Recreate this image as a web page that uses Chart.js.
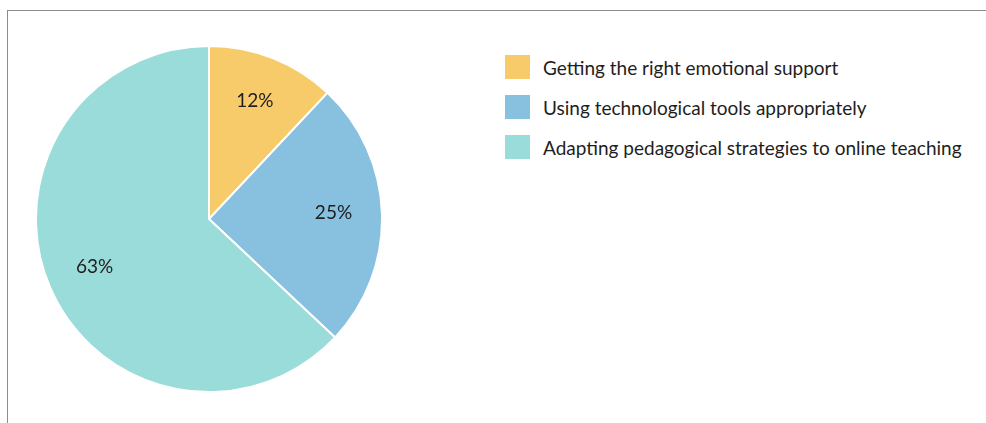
<!DOCTYPE html>
<html>
<head>
<meta charset="utf-8">
<script src="https://cdn.jsdelivr.net/npm/chart.js@4"></script>
<style>
  html, body { margin: 0; padding: 0; background: #fff; }
  body { width: 986px; height: 423px; position: relative; overflow: hidden; font-family: Lato, sans-serif; }
  .frame { position: absolute; left: 7px; top: 10px; right: -10px; bottom: -10px; border-top: 1.5px solid #8c8c8c; border-left: 1.5px solid #8c8c8c; }
  .pie-box { position: absolute; left: 35px; top: 45px; width: 348px; height: 348px; }
  .legend { position: absolute; left: 505px; top: 55px; margin: 0; padding: 0; list-style: none; }
  .legend li { display: flex; align-items: center; height: 24px; margin-bottom: 16px; font-size: 19px; color: #1e1e1e; }
  .legend .swatch { width: 25px; height: 24px; margin-right: 13px; flex: none; }
</style>
</head>
<body>
<div class="frame"></div>
<div class="pie-box"><canvas id="pieChart"></canvas></div>
<ul class="legend" id="legend"></ul>
<script>
const categories = [
    'Getting the right emotional support',
    'Using technological tools appropriately',
    'Adapting pedagogical strategies to online teaching'
];
const shares = [12, 25, 63];
const sliceColors = ['#f7cb6a', '#88c0df', '#9adcd9'];

// percentage text inside each slice
const sliceLabels = {
    id: 'sliceLabels',
    afterDatasetsDraw(chart) {
        const ctx = chart.ctx;
        const arcs = chart.getDatasetMeta(0).data;
        ctx.save();
        ctx.font = '19px Lato, sans-serif';
        ctx.fillStyle = '#1e1e1e';
        ctx.textAlign = 'center';
        ctx.textBaseline = 'middle';
        arcs.forEach((arc, i) => {
            const mid = (arc.startAngle + arc.endAngle) / 2;
            const r = arc.outerRadius * 0.72;
            ctx.fillText(shares[i] + '%', arc.x + Math.cos(mid) * r, arc.y + Math.sin(mid) * r - 2);
        });
        ctx.restore();
    }
};

new Chart(document.getElementById('pieChart'), {
    type: 'pie',
    data: {
        labels: categories,
        datasets: [{
            data: shares,
            backgroundColor: sliceColors,
            borderColor: '#ffffff',
            borderWidth: 2
        }]
    },
    options: {
        responsive: true,
        maintainAspectRatio: false,
        animation: false,
        layout: { padding: 0 },
        plugins: {
            legend: { display: false },
            tooltip: { enabled: false }
        }
    },
    plugins: [sliceLabels]
});

// legend on the right
const legend = document.getElementById('legend');
categories.forEach((name, i) => {
    const li = document.createElement('li');
    const sw = document.createElement('span');
    sw.className = 'swatch';
    sw.style.background = sliceColors[i];
    li.appendChild(sw);
    li.appendChild(document.createTextNode(name));
    legend.appendChild(li);
});
</script>
</body>
</html>
